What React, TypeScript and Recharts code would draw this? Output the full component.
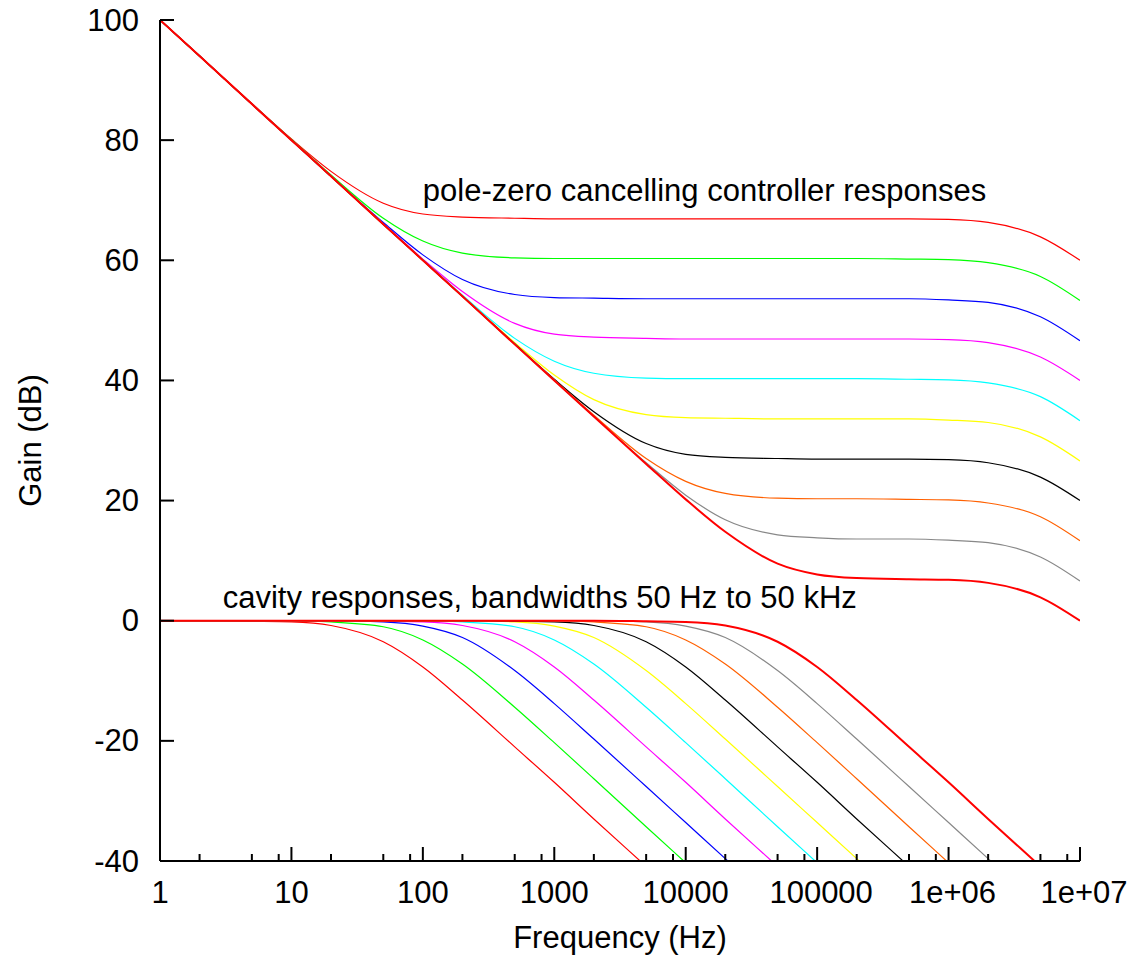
import React from 'react';
import { LineChart, Line, XAxis, YAxis, ReferenceDot } from 'recharts';

// sample frequencies (Hz), three per decade
const freqs = [1, 2, 5, 10, 20, 50, 100, 200, 500, 1e3, 2e3, 5e3, 1e4, 2e4, 5e4, 1e5, 2e5, 5e5, 1e6, 2e6, 5e6, 1e7];

// pole-zero cancelling controller responses (dB)
const ctrl0 = [100, 94.0, 86.1, 80.2, 74.8, 69.5, 67.7, 67.2, 67.0, 66.9, 66.9, 66.9, 66.9, 66.9, 66.9, 66.9, 66.9, 66.9, 66.8, 66.3, 63.9, 60.0];
const ctrl1 = [100, 94.0, 86.0, 80.1, 74.2, 67.0, 63.2, 61.2, 60.4, 60.3, 60.3, 60.3, 60.3, 60.3, 60.3, 60.3, 60.3, 60.2, 60.1, 59.6, 57.3, 53.3];
const ctrl2 = [100, 94.0, 86.0, 80.0, 74.0, 66.3, 60.9, 56.8, 54.3, 53.8, 53.7, 53.6, 53.6, 53.6, 53.6, 53.6, 53.6, 53.6, 53.4, 53.0, 50.6, 46.6];
const ctrl3 = [100, 94.0, 86.0, 80.0, 74.0, 66.1, 60.2, 54.8, 49.5, 47.7, 47.2, 47.0, 46.9, 46.9, 46.9, 46.9, 46.9, 46.9, 46.8, 46.3, 43.9, 40.0];
const ctrl4 = [100, 94.0, 86.0, 80.0, 74.0, 66.0, 60.1, 54.2, 47.0, 43.2, 41.2, 40.4, 40.3, 40.3, 40.3, 40.3, 40.3, 40.2, 40.1, 39.6, 37.3, 33.3];
const ctrl5 = [100, 94.0, 86.0, 80.0, 74.0, 66.0, 60.0, 54.0, 46.3, 40.9, 36.8, 34.3, 33.8, 33.7, 33.6, 33.6, 33.6, 33.6, 33.4, 33.0, 30.6, 26.6];
const ctrl6 = [100, 94.0, 86.0, 80.0, 74.0, 66.0, 60.0, 54.0, 46.1, 40.2, 34.8, 29.5, 27.7, 27.2, 27.0, 26.9, 26.9, 26.9, 26.8, 26.3, 23.9, 20.0];
const ctrl7 = [100, 94.0, 86.0, 80.0, 74.0, 66.0, 60.0, 54.0, 46.0, 40.1, 34.2, 27.0, 23.2, 21.2, 20.4, 20.3, 20.3, 20.2, 20.1, 19.6, 17.3, 13.3];
const ctrl8 = [100, 94.0, 86.0, 80.0, 74.0, 66.0, 60.0, 54.0, 46.0, 40.0, 34.0, 26.3, 20.9, 16.8, 14.3, 13.8, 13.6, 13.6, 13.4, 13.0, 10.6, 6.6];
const ctrl9 = [100, 94.0, 86.0, 80.0, 74.0, 66.0, 60.0, 54.0, 46.0, 40.0, 34.0, 26.1, 20.2, 14.8, 9.5, 7.7, 7.1, 6.9, 6.8, 6.3, 3.9, 0.0];

// cavity responses (dB), 50 Hz .. 50 kHz bandwidths
const cav0 = [0, 0, -0.1, -0.2, -0.8, -3.5, -7.7, -13.2, -21.0, -26.9, -33.0, -40.9, -46.9, null, null, null, null, null, null, null, null, null];
const cav1 = [0, 0, 0, 0, -0.2, -1.0, -3.2, -7.2, -14.4, -20.3, -26.3, -34.3, -40.3, -46.3, null, null, null, null, null, null, null, null];
const cav2 = [0, 0, 0, 0, 0, -0.2, -0.9, -2.8, -8.3, -13.8, -19.7, -27.6, -33.6, -39.6, -47.6, null, null, null, null, null, null, null];
const cav3 = [0, 0, 0, 0, 0, -0.1, -0.2, -0.8, -3.5, -7.7, -13.2, -21.0, -26.9, -33.0, -40.9, -46.9, null, null, null, null, null, null];
const cav4 = [0, 0, 0, 0, 0, 0, 0, -0.2, -1.0, -3.2, -7.2, -14.4, -20.3, -26.3, -34.3, -40.3, -46.3, null, null, null, null, null];
const cav5 = [0, 0, 0, 0, 0, 0, 0, 0, -0.2, -0.9, -2.8, -8.3, -13.8, -19.7, -27.6, -33.6, -39.6, -47.6, null, null, null, null];
const cav6 = [0, 0, 0, 0, 0, 0, 0, 0, -0.1, -0.2, -0.8, -3.5, -7.7, -13.2, -21.0, -26.9, -33.0, -40.9, -46.9, null, null, null];
const cav7 = [0, 0, 0, 0, 0, 0, 0, 0, 0, 0, -0.2, -1.0, -3.2, -7.2, -14.4, -20.3, -26.3, -34.3, -40.3, -46.3, null, null];
const cav8 = [0, 0, 0, 0, 0, 0, 0, 0, 0, 0, 0, -0.2, -0.9, -2.8, -8.3, -13.8, -19.7, -27.6, -33.6, -39.6, -47.6, null];
const cav9 = [0, 0, 0, 0, 0, 0, 0, 0, 0, 0, 0, -0.1, -0.2, -0.8, -3.5, -7.7, -13.2, -21.0, -26.9, -33.0, -40.9, -46.9];

const controllers = [ctrl0, ctrl1, ctrl2, ctrl3, ctrl4, ctrl5, ctrl6, ctrl7, ctrl8, ctrl9];
const cavities = [cav0, cav1, cav2, cav3, cav4, cav5, cav6, cav7, cav8, cav9];
const colors = ['#ff0000', '#00ff00', '#0000ff', '#ff00ff', '#00ffff', '#ffff00', '#000000', '#ff6000', '#888888', '#ff0000'];

const majorTicks = [1, 10, 100, 1000, 10000, 100000, 1000000, 10000000];
const majorLabels = ['1', '10', '100', '1000', '10000', '100000', '1e+06', '1e+07'];
const freqTicks = [1, 2, 5, 8, 10, 20, 50, 80, 100, 200, 500, 800, 1000, 2000, 5000, 8000, 10000, 20000, 50000, 80000,
  100000, 200000, 500000, 800000, 1000000, 2000000, 5000000, 8000000, 10000000];
const gainTicks = [-40, -20, 0, 20, 40, 60, 80, 100];

const font = '"Liberation Sans", Arial, Helvetica, sans-serif';
const fontSize = 31;

const data = freqs.map((f, i) => {
  const row: any = { f };
  controllers.forEach((c, j) => { row['c' + j] = c[i]; });
  cavities.forEach((c, j) => { row['k' + j] = c[i]; });
  return row;
});

const BottomTick = (props: any) => {
  const { x, y, payload } = props;
  const idx = majorTicks.indexOf(payload.value);
  const len = idx >= 0 ? 14 : 7;
  return (
    <g>
      <line x1={x} y1={y} x2={x} y2={y - len} stroke="#000" strokeWidth={2} />
      {idx >= 0 && (
        <text x={x + (idx >= 5 ? 4 : 0)} y={y + 42} textAnchor="middle" fontFamily={font} fontSize={fontSize} fill="#000">
          {majorLabels[idx]}
        </text>
      )}
    </g>
  );
};

const TopTick = (props: any) => {
  const { x, y, payload } = props;
  const len = majorTicks.indexOf(payload.value) >= 0 ? 14 : 7;
  return <line x1={x} y1={y} x2={x} y2={y + len} stroke="#000" strokeWidth={2} />;
};

const LeftTick = (props: any) => {
  const { x, y, payload } = props;
  return (
    <g>
      <line x1={x} y1={y} x2={x + 14} y2={y} stroke="#000" strokeWidth={2} />
      <text x={x - 21} y={y + 10.5} textAnchor="end" fontFamily={font} fontSize={fontSize} fill="#000">
        {payload.value}
      </text>
    </g>
  );
};

const RightTick = (props: any) => {
  const { x, y } = props;
  return <line x1={x} y1={y} x2={x - 14} y2={y} stroke="#000" strokeWidth={2} />;
};

const XTitle = (props: any) => {
  const { viewBox } = props;
  return (
    <text x={viewBox.x + viewBox.width / 2} y={viewBox.y + 87} textAnchor="middle" fontFamily={font} fontSize={fontSize} fill="#000">
      Frequency (Hz)
    </text>
  );
};

const YTitle = (props: any) => {
  const { viewBox } = props;
  const cy = viewBox.y + viewBox.height / 2;
  return (
    <text x={41} y={cy} transform={`rotate(-90, 41, ${cy})`} textAnchor="middle" fontFamily={font} fontSize={fontSize} fill="#000">
      Gain (dB)
    </text>
  );
};

const Note = (props: any) => {
  const { viewBox, text } = props;
  const cx = viewBox.x + viewBox.width / 2;
  const cy = viewBox.y + viewBox.height / 2;
  return (
    <text x={cx} y={cy + 10} textAnchor="start" fontFamily={font} fontSize={fontSize} fill="#000">
      {text}
    </text>
  );
};

const App: React.FC = () => {
  return (
    <div style={{ width: 1134, height: 958 }}>
      <style>{'body { margin: 0; }'}</style>
      <LineChart width={1134} height={958} data={data} margin={{ top: 20, right: 54, bottom: 0, left: 0 }}>
        <XAxis
          xAxisId="b"
          dataKey="f"
          type="number"
          scale="log"
          domain={[1, 10000000]}
          allowDataOverflow
          ticks={freqTicks}
          interval={0}
          tickSize={0}
          tickMargin={0}
          tickLine={false}
          tick={<BottomTick />}
          height={97}
          axisLine={{ stroke: '#000', strokeWidth: 2 }}
          label={<XTitle />}
        />
        <XAxis
          xAxisId="t"
          orientation="top"
          dataKey="f"
          type="number"
          scale="log"
          domain={[1, 10000000]}
          allowDataOverflow
          ticks={freqTicks}
          interval={0}
          tickSize={0}
          tickMargin={0}
          tickLine={false}
          tick={<TopTick />}
          height={0}
          axisLine={{ stroke: '#000', strokeWidth: 2 }}
        />
        <YAxis
          yAxisId="l"
          type="number"
          domain={[-40, 100]}
          allowDataOverflow
          ticks={gainTicks}
          interval={0}
          tickSize={0}
          tickMargin={0}
          tickLine={false}
          tick={<LeftTick />}
          width={160}
          axisLine={{ stroke: '#000', strokeWidth: 2 }}
          label={<YTitle />}
        />
        <YAxis
          yAxisId="r"
          orientation="right"
          type="number"
          domain={[-40, 100]}
          allowDataOverflow
          ticks={gainTicks}
          interval={0}
          tickSize={0}
          tickMargin={0}
          tickLine={false}
          tick={<RightTick />}
          width={0}
          axisLine={{ stroke: '#000', strokeWidth: 2 }}
        />
        {controllers.map((_, j) => (
          <Line
            key={'c' + j}
            xAxisId="b"
            yAxisId="l"
            type="monotone"
            dataKey={'c' + j}
            stroke={colors[j]}
            strokeWidth={j === 9 ? 2 : 1.2}
            dot={false}
            activeDot={false}
            isAnimationActive={false}
          />
        ))}
        {cavities.map((_, j) => (
          <Line
            key={'k' + j}
            xAxisId="b"
            yAxisId="l"
            type="monotone"
            dataKey={'k' + j}
            stroke={colors[j]}
            strokeWidth={j === 9 ? 2 : 1.2}
            dot={false}
            activeDot={false}
            isAnimationActive={false}
          />
        ))}
        <ReferenceDot xAxisId="b" yAxisId="l" x={100} y={71.5} r={1} fill="none" stroke="none"
          label={<Note text="pole-zero cancelling controller responses" />} />
        <ReferenceDot xAxisId="b" yAxisId="l" x={3} y={3.8} r={1} fill="none" stroke="none"
          label={<Note text="cavity responses, bandwidths 50 Hz to 50 kHz" />} />
      </LineChart>
    </div>
  );
};

export default App;
